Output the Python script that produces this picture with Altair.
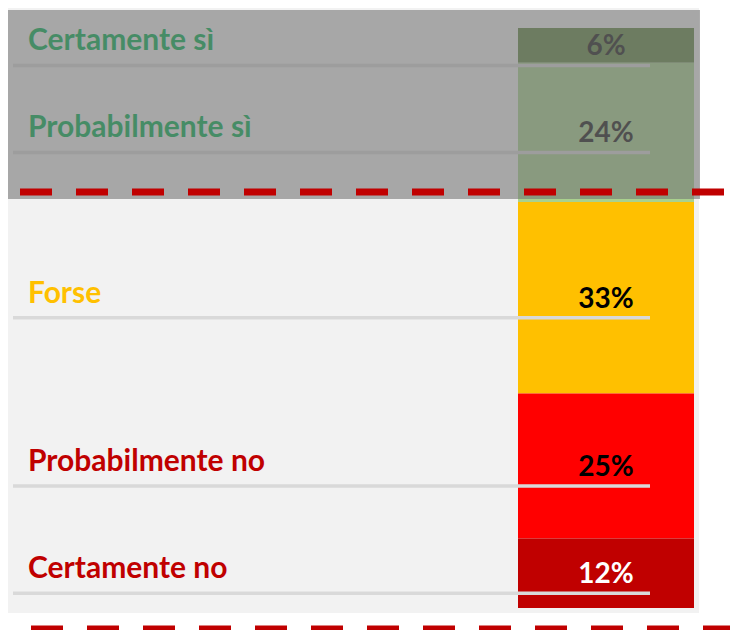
import altair as alt
import pandas as pd

categories = ["Certamente sì", "Probabilmente sì", "Forse", "Probabilmente no", "Certamente no"]
values = [6, 24, 33, 25, 12]

bar_colors = ["#638845", "#A9D18E", "#FFC000", "#FF0000", "#C00000"]
label_colors = ["#00B050", "#00B050", "#FFC000", "#C00000", "#C00000"]
pct_colors = ["#1A1A1A", "#1A1A1A", "#000000", "#000000", "#FFFFFF"]

df = pd.DataFrame({"cat": categories, "value": values})
df["end"] = df["value"].cumsum()
df["start"] = df["end"] - df["value"]
df["mid"] = (df["start"] + df["end"]) / 2
df["pct"] = df["value"].astype(str) + "%"

one = pd.DataFrame({"k": [0]})

W, H = 722, 622
yscale = alt.Scale(domain=[0, 100], range=[20, 600])

panel = alt.Chart(one).mark_rect(color="#F2F2F2").encode(
    x=alt.value(0), x2=alt.value(691), y=alt.value(0), y2=alt.value(605)
)

bars = alt.Chart(df).mark_bar().encode(
    y=alt.Y("start:Q", scale=yscale, axis=None),
    y2="end:Q",
    x=alt.value(510),
    x2=alt.value(686),
    color=alt.Color("cat:N", scale=alt.Scale(domain=categories, range=bar_colors), legend=None),
)

underlines = alt.Chart(df).mark_rule(color="#D9D9D9", strokeWidth=3.5, yOffset=20).encode(
    y=alt.Y("mid:Q", scale=yscale, axis=None),
    x=alt.value(5),
    x2=alt.value(642),
)

cat_labels = alt.Chart(df).mark_text(
    align="left", baseline="middle", font="Lato", fontWeight="bold", fontSize=30, dy=-4
).encode(
    y=alt.Y("mid:Q", scale=yscale, axis=None),
    x=alt.value(20),
    text="cat:N",
    color=alt.Color("cat:N", scale=alt.Scale(domain=categories, range=label_colors), legend=None),
)

pct_labels = alt.Chart(df).mark_text(
    align="center", baseline="middle", font="Lato", fontWeight="bold", fontSize=28, dy=2
).encode(
    y=alt.Y("mid:Q", scale=yscale, axis=None),
    x=alt.value(598),
    text="pct:N",
    color=alt.Color("cat:N", scale=alt.Scale(domain=categories, range=pct_colors), legend=None),
)

overlay = alt.Chart(one).mark_rect(color="#757575", opacity=0.6).encode(
    x=alt.value(0), x2=alt.value(692), y=alt.value(2), y2=alt.value(191)
)

dash_top = alt.Chart(one).mark_rule(color="#C00000", strokeWidth=7, strokeDash=[32, 24]).encode(
    x=alt.value(12), x2=alt.value(716), y=alt.value(184)
)

dash_bottom = alt.Chart(one).mark_rule(
    color="#C00000", strokeWidth=7, strokeDash=[32, 24], strokeDashOffset=33
).encode(x=alt.value(0), x2=alt.value(722), y=alt.value(621))

chart = (
    alt.layer(panel, bars, underlines, cat_labels, pct_labels, overlay, dash_top, dash_bottom)
    .resolve_scale(color="independent")
    .properties(width=W, height=H, padding=0, autosize=alt.AutoSizeParams(type="none"), background="white")
    .configure_view(strokeWidth=0)
)

chart.save("out.html", embed_options={"renderer": "svg", "actions": False})
